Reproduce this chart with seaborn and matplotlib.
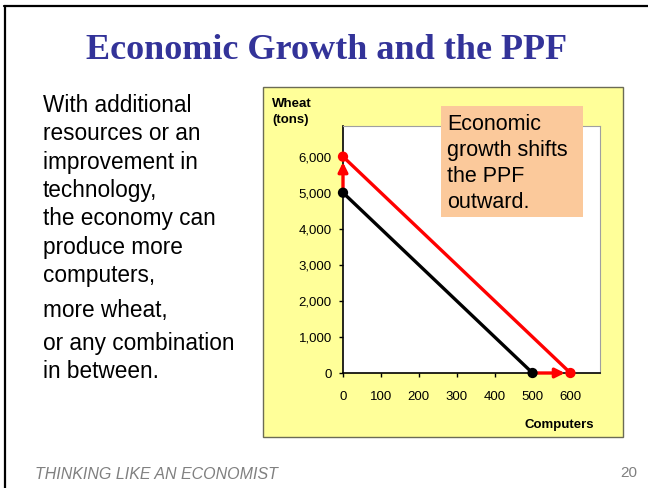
import pandas as pd
import matplotlib.pyplot as plt
import seaborn as sns
from matplotlib.patches import Rectangle
from matplotlib.lines import Line2D
from matplotlib.ticker import FuncFormatter

# --- data ---
computers_before = [0, 500]
wheat_before = [5000, 0]
computers_after = [0, 600]
wheat_after = [6000, 0]
x_ticks = [0, 100, 200, 300, 400, 500, 600]
y_ticks = [0, 1000, 2000, 3000, 4000, 5000, 6000]

title = "Economic Growth and the PPF"
left_lines = ["With additional", "resources or an", "improvement in", "technology,",
              "the economy can", "produce more", "computers,",
              "more wheat,", "or any combination", "in between."]
box_lines = ["Economic", "growth shifts", "the PPF", "outward."]
footer = "THINKING LIKE AN ECONOMIST"
page_no = "20"

df = pd.DataFrame({
    "computers": computers_before + computers_after,
    "wheat": wheat_before + wheat_after,
    "curve": ["before"] * len(computers_before) + ["after"] * len(computers_after),
})
colors = {"before": "black", "after": "red"}

sns.set_style("white")
plt.rcParams["font.family"] = ["Liberation Sans", "DejaVu Sans"]
plt.rcParams["text.color"] = "black"

W, H = 648, 488
fig = plt.figure(figsize=(W / 100, H / 100), dpi=100)


def fx(px):
    return px / W


def fy(px):
    return 1 - px / H


# slide frame (top and left edges)
fig.add_artist(Line2D([fx(4), 1], [fy(6), fy(6)], color="black", lw=1.6))
fig.add_artist(Line2D([fx(5), fx(5)], [fy(6), 0], color="black", lw=1.6))

# yellow chart panel
fig.add_artist(Rectangle((fx(263), fy(437)), 360 / W, 350 / H, transform=fig.transFigure,
                         facecolor="#FFFF99", edgecolor="#6B6B55", lw=1, zorder=-1))

ax = fig.add_axes([fx(343), fy(373), 257 / W, 247 / H])
ax.set_facecolor("white")

# shift arrows
ax.annotate("", xy=(computers_after[0], wheat_after[0]), xytext=(computers_before[0], wheat_before[0]),
            arrowprops=dict(arrowstyle="-|>", color="red", lw=2.4, mutation_scale=14,
                            shrinkA=0, shrinkB=4), annotation_clip=False, zorder=3)
ax.annotate("", xy=(computers_after[1], wheat_after[1]), xytext=(computers_before[1], wheat_before[1]),
            arrowprops=dict(arrowstyle="-|>", color="red", lw=2.4, mutation_scale=14,
                            shrinkA=0, shrinkB=4), annotation_clip=False, zorder=3)

sns.lineplot(data=df, x="computers", y="wheat", hue="curve", palette=colors,
             linewidth=2.4, legend=False, ax=ax, zorder=2, clip_on=False)
sns.scatterplot(data=df, x="computers", y="wheat", hue="curve", palette=colors,
                s=55, edgecolor="none", legend=False, ax=ax, zorder=4, clip_on=False)

ax.set_xlim(0, 678)
ax.set_ylim(0, 6850)
ax.set_xticks(x_ticks)
ax.set_yticks(y_ticks)
ax.yaxis.set_major_formatter(FuncFormatter(lambda v, p: f"{int(v):,}"))
ax.set_xlabel("")
ax.set_ylabel("")
ax.tick_params(axis="both", labelsize=9.5, length=3, width=1, direction="out",
               colors="black", pad=5, left=True, bottom=True)
ax.tick_params(axis="x", pad=10)
for side in ["left", "bottom"]:
    ax.spines[side].set_color("black")
    ax.spines[side].set_linewidth(1.2)
for side in ["top", "right"]:
    ax.spines[side].set_color("#A0A0A0")
    ax.spines[side].set_linewidth(0.8)

# axis titles
fig.text(fx(272), fy(107), "Wheat", fontsize=9.5, fontweight="bold", va="baseline")
fig.text(fx(272), fy(123), "(tons)", fontsize=9.5, fontweight="bold", va="baseline")
fig.text(fx(559), fy(428), "Computers", fontsize=9.5, fontweight="bold", ha="center", va="baseline")

# orange note box
fig.add_artist(Rectangle((fx(441), fy(217)), 142 / W, 111 / H, transform=fig.transFigure,
                         facecolor="#FBC99B", edgecolor="none", zorder=5))
for i, line in enumerate(box_lines):
    fig.text(fx(447), fy(130 + 26 * i), line, fontsize=15.5, va="baseline", zorder=6)

# title
fig.text(fx(327), fy(59), title, family=["Liberation Serif", "DejaVu Serif"],
         fontsize=26, fontweight="bold", color="#333399", ha="center", va="baseline")

# left hand text
baselines = [112, 140.5, 169, 197, 225, 254, 282, 317, 350, 378]
for line, b in zip(left_lines, baselines):
    fig.text(fx(43), fy(b), line, fontsize=16.3, va="baseline")

# footer
fig.text(fx(35), fy(479), footer, fontsize=11.5, style="italic", color="#808080", va="baseline")
fig.text(fx(637), fy(477), page_no, fontsize=11, color="#808080", ha="right", va="baseline")

fig.savefig("out.png", dpi=100, facecolor="white")
